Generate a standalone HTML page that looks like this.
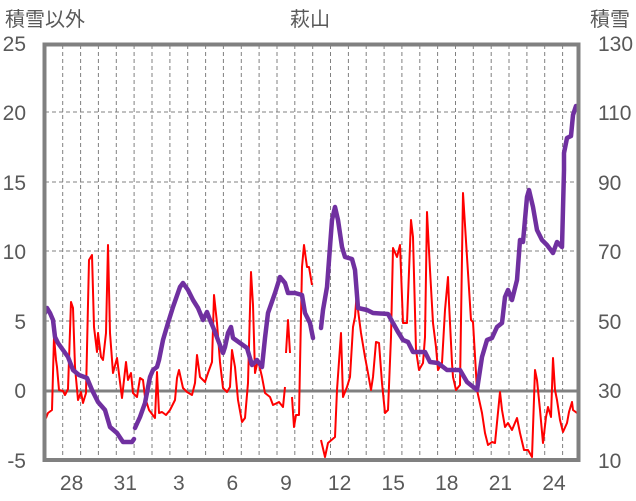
<!DOCTYPE html>
<html><head><meta charset="utf-8"><style>
html,body{margin:0;padding:0;background:#fff;}
svg{display:block;}
text{font-family:"Liberation Sans","Noto Sans CJK JP",sans-serif;fill:#595959;}
</style></head><body>
<svg width="636" height="501" viewBox="0 0 636 501" xmlns="http://www.w3.org/2000/svg">
<rect width="636" height="501" fill="#fff"/>
<g stroke="#808080" stroke-width="1" stroke-dasharray="4,3" fill="none">
<line x1="45" y1="112" x2="578" y2="112"/>
<line x1="45" y1="182" x2="578" y2="182"/>
<line x1="45" y1="251" x2="578" y2="251"/>
<line x1="45" y1="321" x2="578" y2="321"/>
<line x1="62.7" y1="45" x2="62.7" y2="460"/>
<line x1="80.6" y1="45" x2="80.6" y2="460"/>
<line x1="98.4" y1="45" x2="98.4" y2="460"/>
<line x1="116.3" y1="45" x2="116.3" y2="460"/>
<line x1="134.1" y1="45" x2="134.1" y2="460"/>
<line x1="152" y1="45" x2="152" y2="460"/>
<line x1="169.9" y1="45" x2="169.9" y2="460"/>
<line x1="187.7" y1="45" x2="187.7" y2="460"/>
<line x1="205.6" y1="45" x2="205.6" y2="460"/>
<line x1="223.4" y1="45" x2="223.4" y2="460"/>
<line x1="241.3" y1="45" x2="241.3" y2="460"/>
<line x1="259.1" y1="45" x2="259.1" y2="460"/>
<line x1="277" y1="45" x2="277" y2="460"/>
<line x1="294.8" y1="45" x2="294.8" y2="460"/>
<line x1="312.7" y1="45" x2="312.7" y2="460"/>
<line x1="330.5" y1="45" x2="330.5" y2="460"/>
<line x1="348.4" y1="45" x2="348.4" y2="460"/>
<line x1="366.2" y1="45" x2="366.2" y2="460"/>
<line x1="384.1" y1="45" x2="384.1" y2="460"/>
<line x1="401.9" y1="45" x2="401.9" y2="460"/>
<line x1="419.8" y1="45" x2="419.8" y2="460"/>
<line x1="437.6" y1="45" x2="437.6" y2="460"/>
<line x1="455.5" y1="45" x2="455.5" y2="460"/>
<line x1="473.3" y1="45" x2="473.3" y2="460"/>
<line x1="491.2" y1="45" x2="491.2" y2="460"/>
<line x1="509" y1="45" x2="509" y2="460"/>
<line x1="526.9" y1="45" x2="526.9" y2="460"/>
<line x1="544.7" y1="45" x2="544.7" y2="460"/>
<line x1="562.6" y1="45" x2="562.6" y2="460"/>
</g>
<line x1="45" y1="391" x2="578" y2="391" stroke="#808080" stroke-width="3"/>
<g fill="none" stroke="#FF0000" stroke-width="2" stroke-linejoin="round">
<polyline points="45,408 46,418 48,413 52,410 54,337 56,360 57,367 59,390 63,391 65,395 68,389 71,302 73,308 75,367 78,400 81,392 83,403 86,393 89,260 92,255 94,327 97,352 98,333 101,357 103,360 106,333 108,245 110,333 113,373 117,358 122,398 126,362 128,380 131,373 133,393 137,397 140,378 143,380 145,397 149,410 155,418 157,372 159,413 162,412 166,415 170,410 175,400 177,378 179,370 183,388 187,392 192,395 195,383 197,355 200,377 205,382 208,373 212,362 214,295 217,323 220,362 223,388 227,392 230,387 232,350 235,367 238,400 242,422 245,418 248,383 251,272 253,305 255,373 258,360 262,377 265,393 270,397 273,405 279,402 283,407 285,387"/>
<polyline points="286,353 288,320 290,353"/>
<polyline points="292,397 294,427 296,415 299,415 302,267 304,245 307,267 309,267 312,285"/>
<polyline points="321,440 325,457 328,443 335,437 337,390 341,333 343,397 347,387 350,377 353,327 355,317 357,290 358,310 361,333 365,357 368,373 371,390 373,377 376,342 379,343 382,383 385,413 388,410 391,337 393,248 397,257 400,245 403,323 407,323 411,220 413,237 416,350 419,370 423,363 425,337 427,212 430,270 433,323 436,347 438,370 442,363 445,310 448,277 449,303 452,363 453,377 456,390 460,385 463,193 467,257 471,320 473,322 477,390 482,413 485,433 488,445 492,442 495,443 500,392 502,410 505,427 508,423 512,430 517,418 520,433 524,450 528,450 532,457 535,370 537,380 540,410 543,443 546,417 548,407 551,417 553,358 555,390 557,400 560,420 563,432 567,423 569,412 572,402 573,410 577,413"/>
</g>
<g fill="none" stroke="#7030A0" stroke-width="4.5" stroke-linejoin="round" stroke-linecap="round">
<polyline points="45,313 47,308 50,313 53,320 55,337 58,343 63,350 68,357 73,370 79,375 87,378 92,390 98,402 105,410 110,427 117,433 123,442 132,442 134,439"/>
<polyline points="135,428 140,417 145,403 150,377 153,370 157,367 159,360 163,340 168,323 173,307 180,287 183,283 188,290 193,300 198,308 203,320 207,312 210,320 213,327 218,340 223,353 225,347 228,333 231,327 233,338 240,343 247,348 252,365 257,360 262,367 265,338 268,313 275,293 280,277 285,283 288,293 295,293 302,295 305,313 310,323 313,338"/>
<polyline points="321,328 323,310 327,287 332,220 335,207 338,220 342,247 345,257 352,259 355,270 358,308 367,310 373,313 388,314 393,323 398,332 403,340 408,342 413,352 425,352 430,362 438,363 447,370 460,370 467,382 477,390 482,357 487,340 492,338 497,327 502,323 505,297 508,290 512,300 517,280 520,240 523,242 527,197 529,190 533,207 537,230 542,240 547,245 553,253 557,242 562,247 564,170 564,153 567,138 571,136 573,115 576,106 578,107"/>
</g>
<rect x="44.5" y="44.5" width="534" height="415.5" fill="none" stroke="#808080" stroke-width="4"/>
<g font-size="20">
<text x="5" y="26">積雪以外</text>
<text x="310" y="26" text-anchor="middle">萩山</text>
<text x="590" y="26">積雪</text>
</g>
<g font-size="21" text-anchor="end">
<text x="26" y="51">25</text>
<text x="26" y="120">20</text>
<text x="26" y="190">15</text>
<text x="26" y="259">10</text>
<text x="26" y="329">5</text>
<text x="26" y="398">0</text>
<text x="26" y="468">-5</text>
</g>
<g font-size="21">
<text x="598" y="51">130</text>
<text x="598" y="120">110</text>
<text x="598" y="190">90</text>
<text x="598" y="259">70</text>
<text x="598" y="329">50</text>
<text x="598" y="398">30</text>
<text x="598" y="468">10</text>
</g>
<g font-size="21" text-anchor="middle">
<text x="71.6" y="490">28</text>
<text x="125.2" y="490">31</text>
<text x="178.8" y="490">3</text>
<text x="232.4" y="490">6</text>
<text x="286" y="490">9</text>
<text x="339.6" y="490">12</text>
<text x="393.2" y="490">15</text>
<text x="446.8" y="490">18</text>
<text x="500.4" y="490">21</text>
<text x="554" y="490">24</text>
</g>
</svg>
</body></html>
